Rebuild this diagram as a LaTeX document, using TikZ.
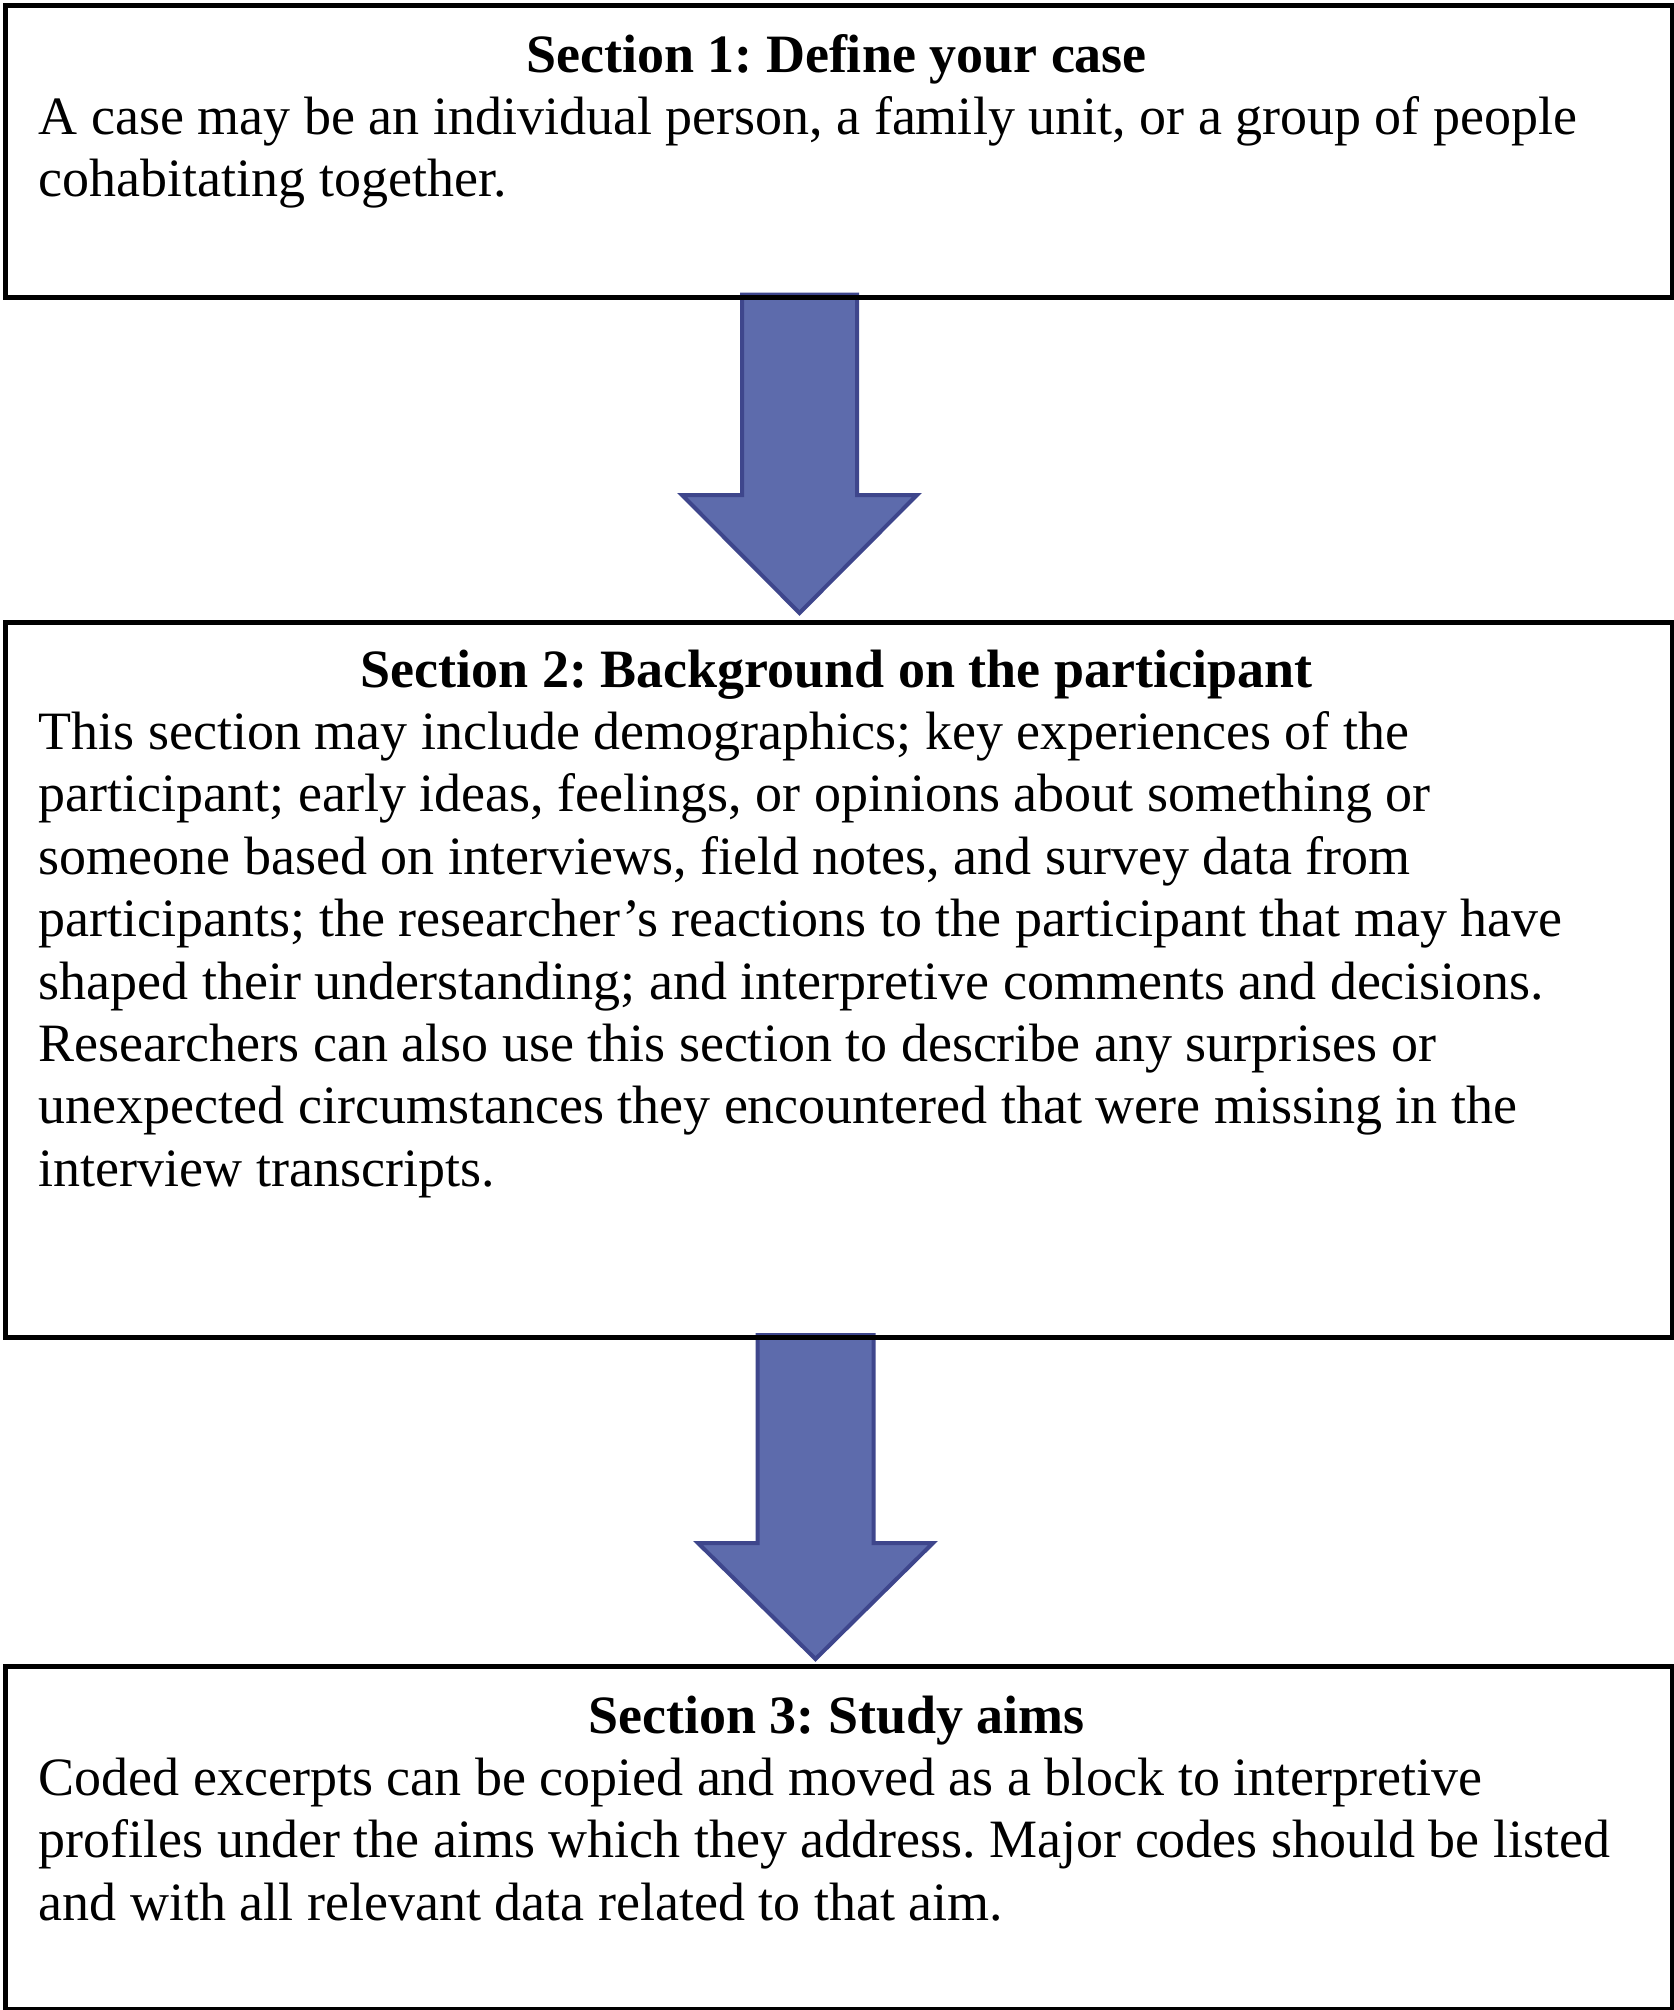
\documentclass[tikz,border=0pt]{standalone}
\usepackage{fontspec}
\setmainfont{Liberation Serif}
\usetikzlibrary{calc}
\frenchspacing
\definecolor{arrowfill}{RGB}{93,107,172}
\definecolor{arrowline}{RGB}{62,70,140}
\tikzset{
  box/.style={draw=black, line width=5pt, rectangle, inner sep=0pt, anchor=north west},
  titletext/.style={inner sep=0pt, anchor=base, font=\fontsize{54}{62.4}\selectfont\bfseries},
  bodytext/.style={inner sep=0pt, anchor=base west, align=left, font=\fontsize{54}{62.4}\selectfont},
  blockarrow/.style={fill=arrowfill, draw=arrowline, line width=4pt, line join=miter}
}
\begin{document}
\begin{tikzpicture}[x=1pt, y=-1pt]
\fill[white] (0,0) rectangle (1673,2010);
\useasboundingbox (0,0) rectangle (1673,2010);

% arrow anchor coordinates
\coordinate (a1top) at (799.5,294.5);
\coordinate (a1tip) at (799.5,613);
\coordinate (a2top) at (815.5,1335);
\coordinate (a2tip) at (815.5,1659);

% block arrows
\filldraw[blockarrow] ($(a1top)+(-57.5,0)$) -- ($(a1top)+(57.5,0)$) -- ($(a1tip)+(57.5,-118)$) -- ($(a1tip)+(117.5,-118)$) -- (a1tip) -- ($(a1tip)+(-117.5,-118)$) -- ($(a1tip)+(-57.5,-118)$) -- cycle;
\filldraw[blockarrow] ($(a2top)+(-58,0)$) -- ($(a2top)+(58,0)$) -- ($(a2tip)+(58,-116)$) -- ($(a2tip)+(117.5,-116)$) -- (a2tip) -- ($(a2tip)+(-117.5,-116)$) -- ($(a2tip)+(-58,-116)$) -- cycle;

% boxes
\node[box, minimum width=1666.5pt, minimum height=291.5pt] (b1) at (3,3) {};
\node[box, minimum width=1666.5pt, minimum height=715.5pt] (b2) at (3,619.5) {};
\node[box, minimum width=1666.5pt, minimum height=342.5pt] (b3) at (3,1664) {};

% texts (body nodes anchored at the baseline of their last line)
\node[titletext] (t1) at (836.5,72) {Section 1: Define your case};
\node[bodytext] (x1) at (38.5,196.8) {A case may be an individual person, a family unit, or a group of people\\cohabitating together.};

\node[titletext] (t2) at (836.5,687) {Section 2: Background on the participant};
\node[bodytext] (x2) at (38.5,1186.2) {This section may include demographics; key experiences of the\\participant; early ideas, feelings, or opinions about something or\\someone based on interviews, field notes, and survey data from\\participants; the researcher’s reactions to the participant that may have\\shaped their understanding; and interpretive comments and decisions.\\Researchers can also use this section to describe any surprises or\\unexpected circumstances they encountered that were missing in the\\interview transcripts.};

\node[titletext] (t3) at (836.5,1733) {Section 3: Study aims};
\node[bodytext] (x3) at (38.5,1920.2) {Coded excerpts can be copied and moved as a block to interpretive\\profiles under the aims which they address. Major codes should be listed\\and with all relevant data related to that aim.};
\end{tikzpicture}
\end{document}
